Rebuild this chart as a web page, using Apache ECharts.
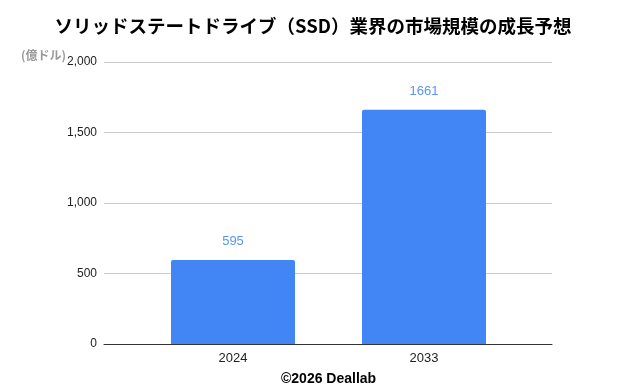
<!DOCTYPE html>
<html><head><meta charset="utf-8">
<script src="https://cdn.jsdelivr.net/npm/echarts@6/dist/echarts.min.js"></script>
<style>html,body{margin:0;padding:0;background:#fff}#c{width:626px;height:386px}</style>
</head><body><div id="c"></div>
<script>
const categories = ['2024', '2033'];
const values = [595, 1661];
const yTicks = [0, 500, 1000, 1500, 2000];
const titleText = 'ソリッドステートドライブ（SSD）業界の市場規模の成長予想';
const unitText = '(億ドル)';
const footerText = '©2026 Deallab';

const chart = echarts.init(document.getElementById('c'));
const font = "'Noto Sans CJK JP', 'Noto Sans', sans-serif";
const lat = "'Liberation Sans', Arial, sans-serif";
chart.setOption({
  animation: false,
  textStyle: { fontFamily: font },
  title: [
    { text: titleText, left: 'center', top: 12, textStyle: { fontSize: 18.5, fontWeight: 'bold', color: '#000', fontFamily: font } },
    { text: footerText, left: 276, top: 367, textStyle: { fontSize: 14, fontWeight: 'bold', color: '#000', fontFamily: lat } },
    { text: unitText, left: 16, top: 44, textStyle: { fontSize: 12, fontWeight: 'bold', color: '#999', fontFamily: font } }
  ],
  grid: [
    { left: 104, right: 74, top: 62, bottom: 42 },
    { left: 137.5, right: 106.5, top: 62, bottom: 42 }
  ],
  xAxis: [
    { type: 'category', gridIndex: 0, data: categories, axisLine: { show: true, lineStyle: { color: '#333' } }, axisTick: { show: false }, axisLabel: { show: false } },
    { type: 'category', gridIndex: 1, data: categories, axisLine: { show: false }, axisTick: { show: false },
      axisLabel: { color: '#222', fontSize: 13, margin: 8, fontFamily: lat } }
  ],
  yAxis: [
    { type: 'value', gridIndex: 0, min: yTicks[0], max: yTicks[yTicks.length - 1], interval: 500,
      axisLine: { show: false }, axisTick: { show: false },
      splitLine: { lineStyle: { color: '#ccc' } },
      axisLabel: { color: '#222', fontSize: 12, margin: 7, fontFamily: lat,
        formatter: v => v.toLocaleString('en-US') } },
    { type: 'value', gridIndex: 1, min: yTicks[0], max: yTicks[yTicks.length - 1], interval: 500, show: false }
  ],
  series: [{
    type: 'bar', xAxisIndex: 1, yAxisIndex: 1, data: values, barWidth: 124,
    itemStyle: { color: '#4285F4', borderRadius: [2, 2, 0, 0] },
    label: { show: true, position: 'top', distance: 12, color: '#5b95f5', fontSize: 13, fontFamily: lat }
  }]
});
</script></body></html>
